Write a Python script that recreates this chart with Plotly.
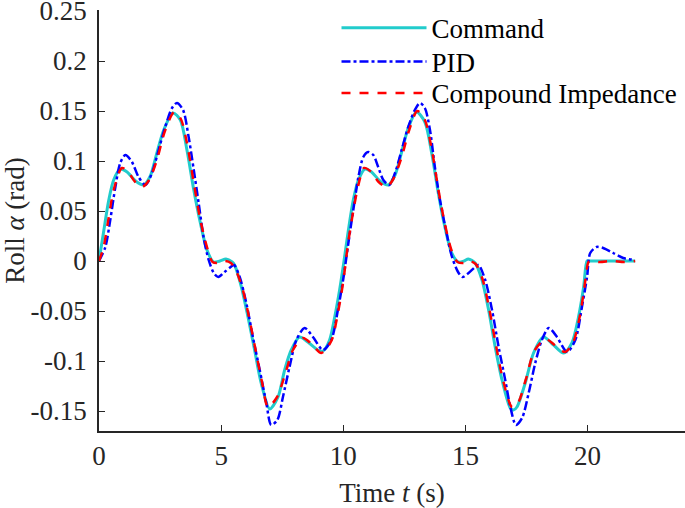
import plotly.graph_objects as go

# ---- data ----
t_cmd = [0, 0.2, 0.4, 0.6, 0.87, 1.15, 1.5, 1.83, 2.1, 2.37, 2.65, 3.03, 3.33, 3.6, 3.88, 4.15, 4.42, 4.69,
         4.95, 5.2, 5.45, 5.55, 5.83, 6.1, 6.37, 6.64, 6.99, 7.33, 7.6, 7.87, 8.21, 8.55, 8.96, 9.17, 9.44,
         9.65, 9.85, 10.03, 10.21, 10.41, 10.62, 10.89, 11.16, 11.5, 11.84, 12.12, 12.39, 12.66, 13.0, 13.34,
         13.62, 13.89, 14.16, 14.44, 14.71, 14.95, 15.12, 15.4, 15.68, 15.95, 16.22, 16.5, 16.84, 16.97, 17.11,
         17.45, 17.79, 18.2, 18.61, 19.02, 19.36, 19.63, 19.84, 19.98, 20.05, 20.4, 21.0, 21.5, 21.95]
y_cmd = [0, 0.031, 0.061, 0.081, 0.092, 0.089, 0.080, 0.076, 0.085, 0.108, 0.131, 0.148, 0.141, 0.111, 0.071,
         0.038, 0.011, -0.001, 0.0, 0.002, -0.001, -0.004, -0.026, -0.056, -0.089, -0.122, -0.148, -0.136,
         -0.109, -0.089, -0.076, -0.081, -0.089, -0.090, -0.079, -0.056, -0.029, 0.0, 0.031, 0.061, 0.081,
         0.092, 0.089, 0.080, 0.076, 0.086, 0.109, 0.133, 0.149, 0.139, 0.108, 0.068, 0.034, 0.008, -0.001,
         0.0, 0.002, -0.002, -0.019, -0.049, -0.086, -0.119, -0.147, -0.149, -0.146, -0.122, -0.092, -0.076,
         -0.084, -0.092, -0.082, -0.056, -0.026, 0.0, 0.0, 0.0, 0.0, 0.0, 0.0]

t_pid = [0, 0.26, 0.46, 0.67, 0.87, 1.08, 1.35, 1.62, 1.9, 2.17, 2.44, 2.71, 2.99, 3.19, 3.44, 3.67, 3.88, 4.08,
         4.28, 4.49, 4.7, 4.88, 5.14, 5.39, 5.53, 5.76, 6.03, 6.3, 6.58, 6.85, 7.05, 7.3, 7.53, 7.8, 8.08, 8.42,
         8.76, 9.17, 9.51, 9.78, 10.0, 10.21, 10.41, 10.62, 10.82, 11.02, 11.23, 11.43, 11.64, 11.88, 12.12,
         12.39, 12.66, 12.93, 13.14, 13.34, 13.55, 13.75, 13.96, 14.23, 14.44, 14.7, 14.88, 15.13, 15.4, 15.54,
         15.81, 16.09, 16.36, 16.63, 16.84, 17.07, 17.32, 17.59, 17.86, 18.13, 18.41, 18.75, 19.16, 19.5, 19.77,
         19.98, 20.11, 20.37, 20.64, 21.05, 21.46, 21.94]
y_pid = [0, 0.014, 0.041, 0.074, 0.098, 0.106, 0.099, 0.084, 0.076, 0.088, 0.111, 0.134, 0.153, 0.158, 0.151,
         0.124, 0.091, 0.058, 0.024, 0.001, -0.012, -0.016, -0.011, -0.006, -0.004, -0.016, -0.042, -0.076,
         -0.109, -0.142, -0.164, -0.159, -0.136, -0.106, -0.079, -0.067, -0.076, -0.089, -0.079, -0.049, -0.018,
         0.018, 0.051, 0.084, 0.104, 0.109, 0.106, 0.094, 0.081, 0.076, 0.088, 0.111, 0.134, 0.151, 0.158,
         0.153, 0.131, 0.094, 0.061, 0.028, 0.005, -0.011, -0.016, -0.012, -0.006, -0.004, -0.019, -0.049,
         -0.086, -0.119, -0.146, -0.164, -0.157, -0.132, -0.102, -0.079, -0.067, -0.076, -0.091, -0.079, -0.046,
         -0.016, 0.008, 0.014, 0.013, 0.008, 0.003, 0.001]

t_imp = [0, 0.19, 0.4, 0.6, 0.94, 1.2, 1.45, 1.76, 2.05, 2.37, 2.7, 3.08, 3.35, 3.6, 3.88, 4.15, 4.42, 4.65, 4.9,
         5.15, 5.4, 5.65, 5.89, 6.14, 6.41, 6.68, 6.92, 7.29, 7.67, 7.94, 8.35, 8.7, 9.1, 9.51, 9.78, 9.99, 10.2,
         10.41, 10.62, 10.85, 11.15, 11.45, 11.77, 12.05, 12.39, 12.7, 13.03, 13.34, 13.62, 13.89, 14.16, 14.44,
         14.68, 14.95, 15.15, 15.42, 15.7, 15.97, 16.25, 16.52, 16.91, 17.15, 17.48, 17.82, 18.28, 18.65, 19.08,
         19.4, 19.66, 19.84, 20.02, 20.08, 20.5, 21.0, 21.5, 21.95]
y_imp = [0, 0.014, 0.044, 0.071, 0.093, 0.089, 0.080, 0.074, 0.081, 0.101, 0.130, 0.149, 0.142, 0.118, 0.078,
         0.041, 0.014, -0.001, -0.002, 0.0, -0.002, -0.012, -0.029, -0.056, -0.089, -0.122, -0.146, -0.136,
         -0.109, -0.089, -0.077, -0.083, -0.092, -0.080, -0.052, -0.022, 0.018, 0.050, 0.076, 0.093, 0.089,
         0.079, 0.074, 0.082, 0.104, 0.131, 0.150, 0.141, 0.112, 0.072, 0.037, 0.010, -0.001, -0.002, 0.0,
         -0.003, -0.018, -0.047, -0.084, -0.117, -0.146, -0.142, -0.118, -0.090, -0.078, -0.084, -0.091, -0.082,
         -0.058, -0.032, -0.002, 0.0, -0.001, 0.0, -0.001, 0.0]

x_ticks = [0, 5, 10, 15, 20]
y_ticks = [0.25, 0.2, 0.15, 0.1, 0.05, 0, -0.05, -0.1, -0.15]
y_tick_text = ["0.25", "0.2", "0.15", "0.1", "0.05", "0", "-0.05", "-0.1", "-0.15"]

FONT = "Liberation Serif, Times New Roman, serif"
AX = "#262626"
FS = 27

fig = go.Figure()
fig.add_trace(go.Scatter(x=t_cmd, y=y_cmd, mode="lines", name="Command", legend="legend",
                         line=dict(color="#22CCCC", width=3, shape="spline", smoothing=0.8)))
fig.add_trace(go.Scatter(x=t_pid, y=y_pid, mode="lines", name="PID", legend="legend2",
                         line=dict(color="#0000FF", width=2.5, dash="dashdot", shape="spline", smoothing=0.8)))
fig.add_trace(go.Scatter(x=t_imp, y=y_imp, mode="lines", name="Compound Impedance", legend="legend3",
                         line=dict(color="#FF0000", width=2.5, dash="dash", shape="spline", smoothing=0.8)))

def leg(y):
    return dict(x=0.4053, y=y, xanchor="left", yanchor="middle", bgcolor="rgba(0,0,0,0)",
                borderwidth=0, font=dict(family=FONT, size=FS, color="black"), itemwidth=85)

fig.update_layout(
    width=685, height=508,
    margin=dict(l=99, r=0, t=10, b=77, autoexpand=False),
    paper_bgcolor="white", plot_bgcolor="white",
    font=dict(family=FONT, size=FS, color="black"),
    showlegend=True,
    legend=leg(0.957), legend2=leg(0.8765), legend3=leg(0.802),
)
fig.update_xaxes(range=[0, 23.99], tickvals=x_ticks, ticks="inside", ticklen=6, tickcolor=AX,
                 showline=True, linecolor=AX, linewidth=1.5, showgrid=False, zeroline=False,
                 automargin=True, ticklabeloverflow="allow", ticklabelstandoff=0,
                 tickfont=dict(family=FONT, size=FS, color=AX),
                 title=dict(text="Time <i>t</i> (s)", font=dict(family=FONT, size=FS, color=AX), standoff=18))
fig.update_yaxes(range=[-0.17, 0.251], tickvals=y_ticks, ticktext=y_tick_text, ticks="inside", ticklen=6,
                 tickcolor=AX, showline=True, linecolor=AX, linewidth=1.5, showgrid=False, zeroline=False,
                 automargin=True, ticklabeloverflow="allow", ticklabelstandoff=5,
                 tickfont=dict(family=FONT, size=FS, color=AX),
                 title=dict(text="Roll <i>α</i> (rad)", font=dict(family=FONT, size=FS, color=AX), standoff=12))

# remove the browser's default 8px page margin so the figure fills the window
fig.write_html("out.html", config={"displayModeBar": False},
               post_script="document.body.style.margin='0px';")
